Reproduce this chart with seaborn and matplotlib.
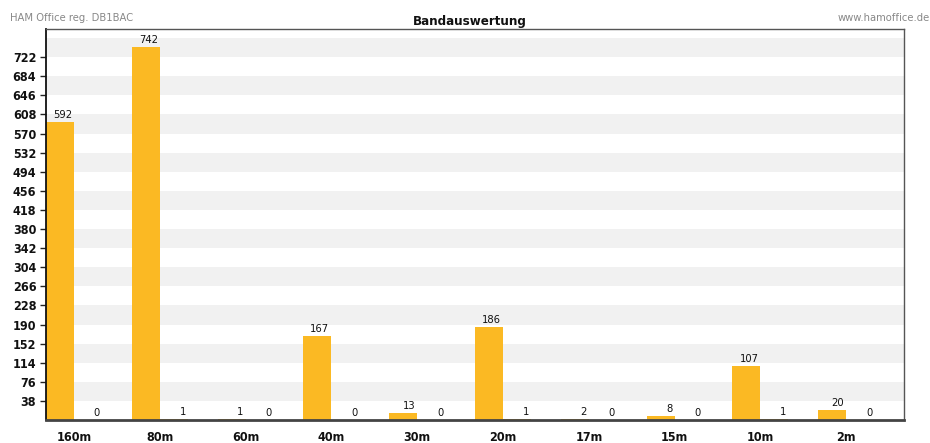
import matplotlib
matplotlib.use("Agg")
import matplotlib.pyplot as plt
import seaborn as sns
import pandas as pd
import numpy as np

bands = ['160m', '80m', '60m', '40m', '30m', '20m', '17m', '15m', '10m', '2m']
series_a = [592, 742, 1, 167, 13, 186, 2, 8, 107, 20]
series_b = [0, 1, 0, 0, 0, 1, 0, 0, 1, 0]
y_ticks = list(range(38, 723, 38))
title = "Bandauswertung"
left_note = "HAM Office reg. DB1BAC"
right_note = "www.hamoffice.de"

sns.set_style("white")
FONT = ['DejaVu Sans']
plt.rcParams['font.family'] = FONT
plt.rcParams['font.stretch'] = 'condensed'

df = pd.DataFrame({
    'band': bands * 2,
    'value': series_a + series_b,
    'series': ['A'] * len(bands) + ['B'] * len(bands),
})

fig = plt.figure(figsize=(9.3, 4.43), dpi=100)
ax = fig.add_axes([46 / 930, 1 - 420 / 443, (904 - 46) / 930, (420 - 29) / 443])

W = 0.653
# alternating stripes
for k in range(0, len(y_ticks) + 2, 2):
    lo = 38 * (k + 1)
    ax.axhspan(lo, lo + 38, color='#F1F1F1', zorder=0, lw=0)

sns.barplot(data=df, x='band', y='value', hue='series', order=bands,
            palette={'A': '#FBB923', 'B': '#FBB923'}, width=W, dodge=True,
            saturation=1, gap=0, legend=False, ax=ax, zorder=2, linewidth=0,
            errorbar=None)

for cont in ax.containers:
    for p in cont:
        h = p.get_height()
        ax.annotate(f"{int(round(h))}", xy=(p.get_x() + p.get_width(), h),
                    xytext=(-2, 2), textcoords='offset pixels',
                    ha='right', va='bottom', fontsize=8, color='#111111',
                    stretch='condensed', zorder=4)

ax.set_xlim(-W / 2, len(bands) - W / 2)
ax.set_ylim(0, 778)
ax.set_yticks(y_ticks)
ax.set_yticklabels([str(t) for t in y_ticks], fontweight='bold', fontsize=9,
                   stretch='condensed', color='#111111')
ax.set_xticks(range(len(bands)))
ax.set_xticklabels(bands, fontweight='bold', fontsize=9, stretch='condensed',
                   color='#111111')
ax.set_xlabel('')
ax.set_ylabel('')
ax.tick_params(axis='x', length=0, pad=8)
ax.tick_params(axis='y', length=4, width=1, color='#222222', pad=3, left=True)

for s in ['top', 'right']:
    ax.spines[s].set_color('#555555')
    ax.spines[s].set_linewidth(1)
ax.spines['left'].set_color('#111111')
ax.spines['left'].set_linewidth(1.3)
ax.spines['bottom'].set_color('#444444')
ax.spines['bottom'].set_linewidth(2)
for s in ax.spines.values():
    s.set_zorder(5)

fig.text(10 / 930, 1 - 18 / 443, left_note, ha='left', va='center',
         fontsize=8, color='#888888', stretch='condensed')
fig.text(930 / 930, 1 - 18 / 443, right_note, ha='right', va='center',
         fontsize=8, color='#888888', stretch='condensed')
fig.text(470 / 930, 1 - 21 / 443, title, ha='center', va='center',
         fontsize=9.5, fontweight='bold', color='#111111', stretch='condensed')

fig.savefig('out.png', dpi=100)
